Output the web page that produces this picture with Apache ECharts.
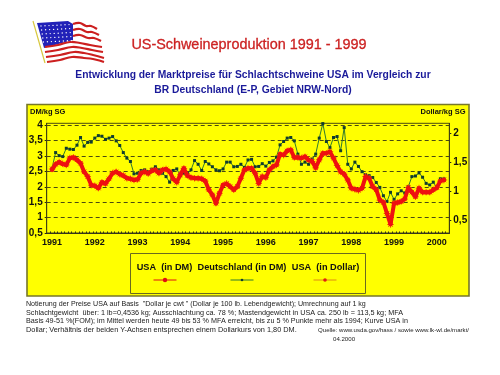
<!DOCTYPE html>
<html>
<head>
<meta charset="utf-8">
<style>
html, body { margin: 0; padding: 0; background: #fff; }
#chart { width: 500px; height: 375px; }
</style>
<script src="https://cdn.jsdelivr.net/npm/echarts@6/dist/echarts.min.js"></script>
</head>
<body>
<div id="chart"></div>
<script>
// Monatswerte Jan 1991 - Apr 2000
const usaDm = [
  2.55,2.73,2.80,2.74,2.71,2.93,2.95,2.87,2.76,2.49,2.33,2.06,
  2.03,1.95,2.15,2.10,2.26,2.44,2.49,2.41,2.36,2.28,2.26,2.22,
  2.24,2.44,2.49,2.43,2.52,2.55,2.44,2.55,2.57,2.49,2.26,2.15,
  2.39,2.60,2.36,2.30,2.28,2.28,2.26,2.19,1.90,1.74,1.46,1.79,
  2.06,2.10,2.00,1.90,2.00,2.28,2.55,2.60,2.60,2.44,2.11,2.33,
  2.30,2.55,2.66,2.71,3.06,3.03,3.17,3.20,2.95,2.95,2.93,2.98,
  2.87,2.82,2.62,2.87,3.09,3.09,3.14,2.93,2.69,2.49,2.41,2.22,
  1.95,1.92,1.89,1.95,2.33,2.28,2.00,1.90,1.57,1.50,1.14,0.78,
  1.46,1.49,1.52,1.61,1.97,1.82,1.68,1.95,1.82,1.82,1.82,1.90,
  1.97,2.19,2.22
];
const deutschlandDm = [
  2.60,3.11,3.01,2.98,3.25,3.22,3.21,3.35,3.60,3.32,3.44,3.45,
  3.58,3.66,3.64,3.54,3.58,3.63,3.49,3.34,3.11,2.93,2.82,2.42,
  2.44,2.53,2.55,2.49,2.57,2.65,2.55,2.44,2.33,2.15,2.53,2.58,
  2.36,2.44,2.42,2.55,2.85,2.73,2.53,2.82,2.74,2.65,2.55,2.52,
  2.58,2.80,2.80,2.65,2.66,2.73,2.63,2.87,2.89,2.65,2.66,2.75,
  2.67,2.79,2.84,2.96,3.36,3.47,3.58,3.60,3.49,3.06,2.73,2.80,
  2.73,2.90,3.06,3.58,4.05,3.47,3.27,3.60,3.63,3.17,3.92,2.73,
  2.58,2.80,2.66,2.49,2.39,2.36,2.30,2.14,1.98,1.71,1.52,1.82,
  1.59,1.77,1.87,1.80,2.00,2.33,2.35,2.45,2.31,2.11,2.06,2.15,
  1.97,2.26,2.26
];
const usaDollar = [
  1.38,1.46,1.50,1.47,1.45,1.57,1.58,1.54,1.48,1.33,1.25,1.10,
  1.09,1.05,1.15,1.13,1.21,1.31,1.33,1.29,1.27,1.22,1.21,1.19,
  1.20,1.31,1.33,1.30,1.35,1.36,1.31,1.36,1.38,1.33,1.21,1.15,
  1.28,1.39,1.27,1.23,1.22,1.22,1.21,1.17,1.02,0.93,0.79,0.96,
  1.10,1.13,1.08,1.02,1.08,1.22,1.36,1.39,1.39,1.31,1.13,1.25,
  1.23,1.36,1.42,1.45,1.63,1.62,1.69,1.71,1.58,1.58,1.57,1.59,
  1.54,1.51,1.40,1.54,1.65,1.65,1.68,1.57,1.44,1.33,1.29,1.19,
  1.05,1.03,1.01,1.05,1.25,1.22,1.08,1.02,0.84,0.80,0.61,0.42,
  0.79,0.80,0.82,0.86,1.06,0.98,0.90,1.05,0.98,0.98,0.98,1.02,
  1.06,1.17,1.19
];
const leftTicks = [0.5, 1, 1.5, 2, 2.5, 3, 3.5, 4];
const rightTicks = [0.5, 1, 1.5, 2];
const footText = [
  'Notierung der Preise USA auf Basis  "Dollar je cwt " (Dollar je 100 lb. Lebendgewicht); Umrechnung auf 1 kg',
  'Schlachtgewicht  über: 1 lb=0,4536 kg; Ausschlachtung ca. 78 %; Mastendgewicht in USA ca. 250 lb = 113,5 kg; MFA',
  'Basis 49-51 %(FOM); im Mittel werden heute 49 bis 53 % MFA erreicht, bis zu 5 % Punkte mehr als 1994; Kurve USA in',
  'Dollar; Verhältnis der beiden Y-Achsen entsprechen einem Dollarkurs von 1,80 DM.'
];

// Kategorien: ein Leerfeld vorne, dann Monate
const months = [""];
for (let i = 0; i < 112; i++) {
  const y = 1991 + Math.floor(i / 12);
  months.push(y + "-" + (i % 12 + 1));
}
const pad = arr => [null].concat(arr);
const font = "Liberation Sans, Arial, sans-serif";
const star = "path://M5 0L5 10M0 5L10 5M1.5 1.5L8.5 8.5M8.5 1.5L1.5 8.5";

function label(x, y, text, size, color, align, weight) {
  return {
    type: "text", x: x, y: y, silent: true,
    style: {
      text: text, fill: color, align: align || "left", verticalAlign: "middle",
      font: (weight || "normal") + " " + size + "px " + font
    }
  };
}

// Flagge, nur grob gezeichnet
const stripes = [
  [[73, 24], [80, 23], [86, 26], [91, 26], [97, 29]],
  [[73, 30], [80, 29], [87, 32], [92, 32], [99, 35]],
  [[73, 36], [80, 35], [88, 38], [94, 38], [101, 41]],
  [[45, 47], [58, 45], [70, 42], [80, 43], [90, 45], [102, 47]],
  [[45, 52], [58, 50], [72, 47], [82, 48], [92, 50], [103, 52]],
  [[46, 57], [60, 55], [74, 52], [84, 53], [93, 55], [104, 58]],
  [[47, 62], [60, 60], [72, 57], [84, 58], [93, 59], [104, 62]]
];
const flag = [
  { type: "line", shape: { x1: 33, y1: 21, x2: 45, y2: 63 }, style: { stroke: "#d8c840", lineWidth: 1.2 } },
  {
    type: "polygon",
    shape: { points: [[37, 23], [68, 21], [73, 24], [73, 40], [44, 48]] },
    style: { fill: "#2222b8" }
  }
];
stripes.forEach(p => {
  flag.push({ type: "polyline", shape: { points: p, smooth: 0.4 }, style: { stroke: "#cc1f1f", lineWidth: 2.2, fill: null } });
});
for (let r = 0; r < 5; r++) {
  for (let c = 0; c < 8; c++) {
    flag.push({
      type: "circle",
      shape: { cx: 41 + c * 4 + r * 0.6, cy: 26 + r * 4 - c * 0.2, r: 0.7 },
      style: { fill: "#fff" }
    });
  }
}

const legendX = [165, 242, 325];
const legendLines = [
  { stroke: "#e01010", dot: "#e01010", r: 2.2 },
  { stroke: "#2f7a2f", dot: "#103c30", r: 1.3 },
  { stroke: "#e08a10", dot: "#e02010", r: 1.8 }
];
const legendGraphic = [
  {
    type: "rect", shape: { x: 130.5, y: 253.5, width: 235, height: 40 },
    style: { fill: "none", stroke: "#6a6a20", lineWidth: 1 }
  },
  label(164.5, 267.5, "USA  (in DM)", 9.2, "#111", "center", "bold"),
  label(242, 267.5, "Deutschland (in DM)", 9.2, "#111", "center", "bold"),
  label(325.5, 267.5, "USA  (in Dollar)", 9.2, "#111", "center", "bold")
];
legendLines.forEach((l, i) => {
  legendGraphic.push({
    type: "line", shape: { x1: legendX[i] - 11.5, y1: 280, x2: legendX[i] + 11.5, y2: 280 },
    style: { stroke: l.stroke, lineWidth: 1 }
  });
  legendGraphic.push({
    type: "circle", shape: { cx: legendX[i], cy: 280, r: l.r }, style: { fill: l.dot }
  });
});

const titleLabel = label(249, 45, "US-Schweineproduktion 1991 - 1999", 14.4, "#cc2222", "center", "normal");
titleLabel.style.stroke = "#cc2222";
titleLabel.style.lineWidth = 0.3;

const chart = echarts.init(document.getElementById("chart"));
chart.setOption({
  animation: false,
  backgroundColor: "#fff",
  textStyle: { fontFamily: font },
  grid: {
    left: 46.7, top: 123.3, width: 402.6, height: 109.7,
    show: true, borderColor: "#4a4a10", borderWidth: 1, z: 3
  },
  xAxis: {
    type: "category",
    data: months,
    boundaryGap: true,
    axisLine: { lineStyle: { color: "#222", width: 1 } },
    axisTick: { show: true, length: -1.5, interval: 0, lineStyle: { color: "#222" } },
    axisLabel: {
      interval: (i, v) => v.endsWith("-1"),
      formatter: v => v.slice(0, 4),
      color: "#111", fontSize: 9, fontWeight: "bold", margin: 5
    }
  },
  yAxis: [
    {
      type: "value", min: 0.5, max: 4.06,
      axisLine: { show: true, lineStyle: { color: "#222" } },
      axisTick: { show: true, length: 2, customValues: leftTicks, lineStyle: { color: "#222" } },
      axisLabel: {
        customValues: leftTicks,
        formatter: v => String(v).replace(".", ","),
        color: "#111", fontSize: 10, fontWeight: "bold", margin: 4
      },
      splitLine: { show: true, lineStyle: { color: "#4a4a10", type: [4, 3], width: 1 } }
    },
    {
      type: "value", min: 0.273, max: 2.17, position: "right",
      axisLine: { show: true, lineStyle: { color: "#222" } },
      axisTick: { show: true, length: 2, customValues: rightTicks, lineStyle: { color: "#222" } },
      axisLabel: {
        customValues: rightTicks,
        formatter: v => String(v).replace(".", ","),
        color: "#111", fontSize: 10, fontWeight: "bold", margin: 4
      },
      splitLine: { show: false }
    }
  ],
  series: [
    {
      name: "Deutschland (in DM)", type: "line", z: 3,
      data: pad(deutschlandDm),
      lineStyle: { color: "#2f7a2f", width: 1 },
      symbol: "rect", symbolSize: 3, showAllSymbol: true,
      itemStyle: { color: "#103c30" }
    },
    {
      name: "USA (in Dollar)", type: "line", yAxisIndex: 1, z: 4,
      data: pad(usaDollar),
      lineStyle: { color: "#f0500a", width: 1 },
      symbol: star, symbolSize: 6.5, showAllSymbol: true,
      itemStyle: { color: "none", borderColor: "#f5500a", borderWidth: 1 }
    },
    {
      name: "USA (in DM)", type: "line", z: 5,
      data: pad(usaDm),
      lineStyle: { color: "#ee1010", width: 4 },
      symbol: "circle", symbolSize: 4.5, showAllSymbol: true,
      itemStyle: { color: "#ee1010" }
    }
  ],
  graphic: {
    elements: [
      {
        type: "rect", z: -10, shape: { x: 27, y: 104.5, width: 442, height: 191.5 },
        style: { fill: "#ffff00", stroke: "#77772a", lineWidth: 1.6 }
      },
      { type: "group", children: flag },
      titleLabel,
      label(253, 75.5, "Entwicklung der Marktpreise für Schlachtschweine USA im Vergleich zur", 10.3, "#1a1a9a", "center", "bold"),
      label(253, 90, "BR Deutschland (E-P, Gebiet NRW-Nord)", 10.3, "#1a1a9a", "center", "bold"),
      label(30, 112, "DM/kg SG", 7.5, "#111", "left", "bold"),
      label(465.5, 112, "Dollar/kg SG", 7.5, "#111", "right", "bold"),
      { type: "group", children: legendGraphic },
      label(26, 304, footText[0], 7.1, "#222"),
      label(26, 312.7, footText[1], 7.25, "#222"),
      label(26, 321, footText[2], 7.2, "#222"),
      label(26, 329.7, footText[3], 7.35, "#222"),
      label(318, 330.5, "Quelle: www.usda.gov/hass / sowie www.lk-wl.de/markt/", 6.1, "#222"),
      label(333, 339, "04.2000", 6.1, "#222")
    ]
  }
});
</script>
</body>
</html>
